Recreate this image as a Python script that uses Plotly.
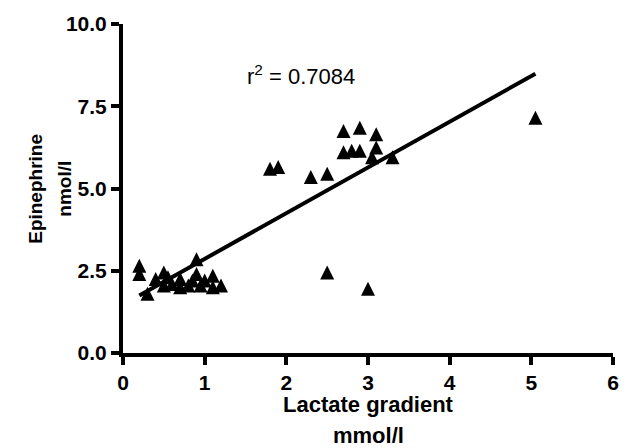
import plotly.graph_objects as go

# Data
lactate = [0.2, 0.2, 0.3, 0.4, 0.5, 0.5, 0.55, 0.6, 0.7, 0.7, 0.8, 0.85, 0.9, 0.9, 0.95, 1.0, 1.1, 1.1, 1.2,
           1.8, 1.9, 2.3, 2.5, 2.7, 2.9, 2.7, 2.8, 2.9, 3.1, 3.1, 3.05, 3.3, 5.05,
           2.5, 3.0]
epinephrine = [2.65, 2.4, 1.8, 2.25, 2.45, 2.05, 2.3, 2.1, 2.0, 2.25, 2.05, 2.2, 2.85, 2.4, 2.05, 2.2, 2.35, 2.0, 2.05,
               5.6, 5.65, 5.35, 5.45, 6.75, 6.85, 6.1, 6.15, 6.15, 6.65, 6.25, 5.95, 5.95, 7.15,
               2.45, 1.95]

# Regression line parameters (read from the drawn fit)
slope = 1.39
intercept = 1.47
r2_text = "r<sup>2</sup> = 0.7084"

x_ticks = [0, 1, 2, 3, 4, 5, 6]
x_tick_labels = ["0", "1", "2", "3", "4", "5", "6"]
y_ticks = [0.0, 2.5, 5.0, 7.5, 10.0]
y_tick_labels = ["0.0", "2.5", "5.0", "7.5", "10.0"]
x_title_lines = ["Lactate gradient", "mmol/l"]
y_title_lines = ["Epinephrine", "nmol/l"]

FONT = "Liberation Sans, Arial, sans-serif"
MS = 14


def bold(s):
    return "<b>" + s + "</b>"


x_fit = [min(lactate), max(lactate)]
y_fit = [intercept + slope * v for v in x_fit]

fig = go.Figure()
fig.add_trace(go.Scatter(
    x=x_fit, y=y_fit, mode="lines",
    line=dict(color="black", width=4), showlegend=False, hoverinfo="skip"))
fig.add_trace(go.Scatter(
    x=lactate, y=epinephrine, mode="markers",
    marker=dict(symbol="arrow-down", angle=180, standoff=MS / 2, size=MS, color="black",
                line=dict(width=0)),
    showlegend=False, cliponaxis=False))

axis_common = dict(
    showgrid=False, zeroline=False, showline=True, linecolor="black", linewidth=4,
    ticks="outside", ticklen=8, tickwidth=4, tickcolor="black",
    tickfont=dict(family=FONT, size=21, color="black"),
)
fig.update_xaxes(range=[0, 6], tickvals=x_ticks, ticktext=[bold(t) for t in x_tick_labels], **axis_common)
fig.update_yaxes(range=[0, 10], tickvals=y_ticks, ticktext=[bold(t) for t in y_tick_labels], **axis_common)

# x-axis title (two lines)
for txt, ypos in zip(x_title_lines, [-0.156, -0.252]):
    fig.add_annotation(
        text=bold(txt), xref="paper", yref="paper", x=0.5, y=ypos,
        xanchor="center", yanchor="middle", showarrow=False,
        font=dict(family=FONT, size=22, color="black"))
# y-axis title (two lines, rotated)
for txt, xpos in zip(y_title_lines, [-0.179, -0.12]):
    fig.add_annotation(
        text=bold(txt), xref="paper", yref="paper", x=xpos, y=0.5,
        xanchor="center", yanchor="middle", showarrow=False, textangle=-90,
        font=dict(family=FONT, size=19, color="black"))
fig.add_annotation(
    text=r2_text, x=2.18, y=8.45, xref="x", yref="y", showarrow=False,
    xanchor="center", yanchor="middle",
    font=dict(family=FONT, size=22, color="black"))

fig.update_layout(
    width=631, height=448,
    margin=dict(l=123, r=17, t=20, b=95),
    paper_bgcolor="white", plot_bgcolor="white",
    font=dict(family=FONT, color="black"),
)

fig.write_html("out.html")
